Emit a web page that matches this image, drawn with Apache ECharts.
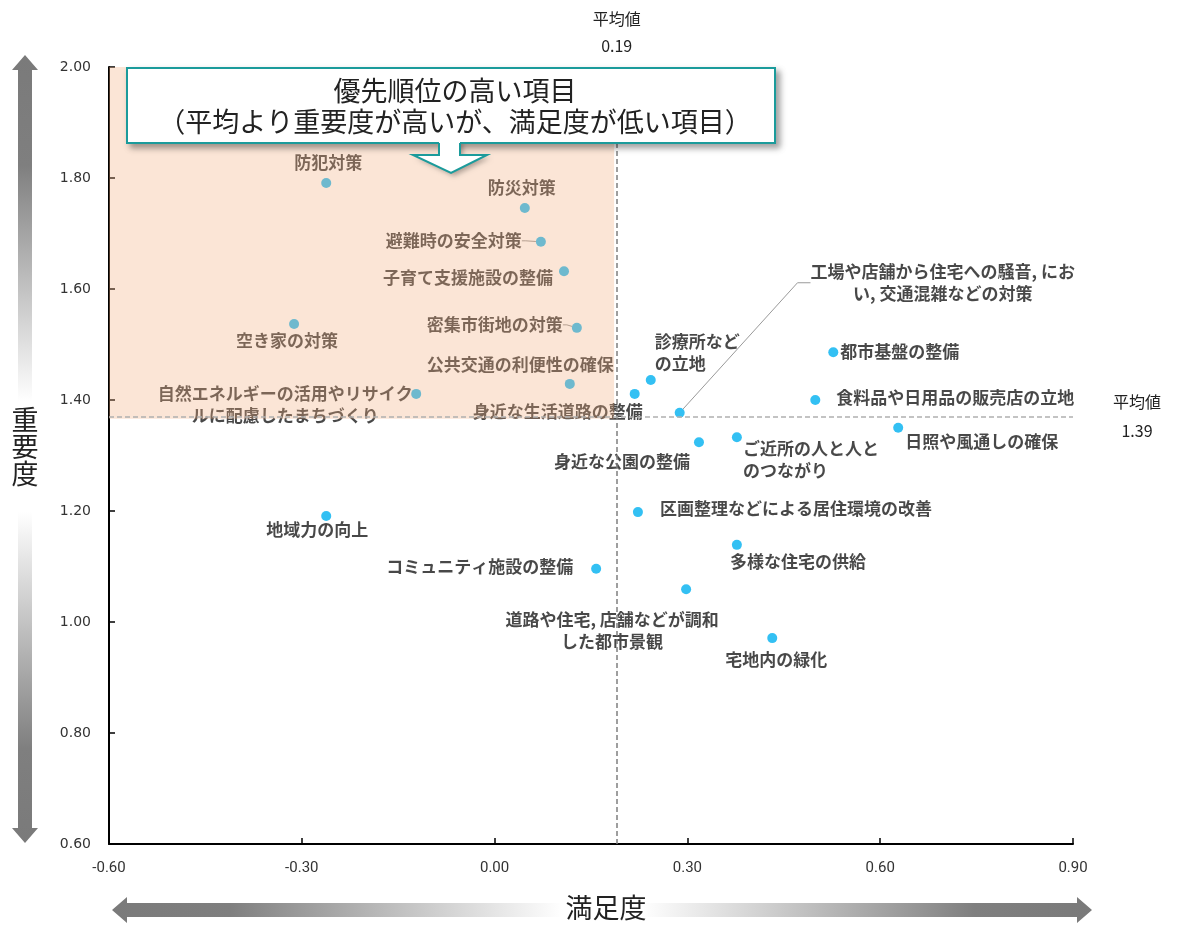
<!DOCTYPE html>
<html>
<head>
<meta charset="utf-8">
<script src="https://cdn.jsdelivr.net/npm/echarts@6/dist/echarts.min.js"></script>
<style>
html,body{margin:0;padding:0;background:#fff;}
#chart{width:1177px;height:925px;}
</style>
</head>
<body>
<div id="chart"></div>
<script>
// ---- data ----
const itemNames = [
  '防犯対策', '防災対策', '避難時の安全対策', '子育て支援施設の整備', '空き家の対策',
  '密集市街地の対策', '公共交通の利便性の確保', '自然エネルギーの活用やリサイク\nルに配慮したまちづくり',
  '身近な生活道路の整備', '診療所など\nの立地', '工場や店舗から住宅への騒音, にお\nい, 交通混雑などの対策',
  '都市基盤の整備', '食料品や日用品の販売店の立地', '日照や風通しの確保', '身近な公園の整備',
  'ご近所の人と人と\nのつながり', '地域力の向上', '区画整理などによる居住環境の改善', '多様な住宅の供給',
  'コミュニティ施設の整備', '道路や住宅, 店舗などが調和\nした都市景観', '宅地内の緑化'
];
const satisfaction = [
  -0.262, 0.047, 0.072, 0.108, -0.312,
  0.128, 0.117, -0.122,
  0.218, 0.243, 0.288,
  0.527, 0.499, 0.628, 0.318,
  0.377, -0.262, 0.223, 0.377,
  0.158, 0.298, 0.432
];
const importance = [
  1.791, 1.746, 1.685, 1.632, 1.537,
  1.530, 1.429, 1.411,
  1.411, 1.436, 1.377,
  1.486, 1.400, 1.350, 1.324,
  1.333, 1.191, 1.198, 1.139,
  1.096, 1.059, 0.971
];
const xTicks = { min: -0.6, max: 0.9, interval: 0.3 };
const yTicks = { min: 0.6, max: 2.0, interval: 0.2 };
const avgSatisfactionLine = 0.186;
const avgSatisfactionText = '0.19';
const avgImportanceLine = 1.366;
const avgImportanceText = '1.39';

// ---- label layout (style only: align, dx, dy, leader) ----
const labelPlacement = [
  ['center', 2, -20], ['center', -3, -20], ['right', -19, -1, 4], ['right', -11, 6], ['center', -7, 17],
  ['right', -14, -3, 4], ['right', 44, -19], ['center', -131, 11],
  ['right', 8, 18], ['left', 4, -27], ['center', 263, -130, 13],
  ['left', 7, -1], ['left', 21, -2], ['left', 7, 14], ['right', -9, 19],
  ['left', 6, 22], ['center', -9, 14], ['left', 22, -4], ['left', -7, 17],
  ['right', -23, -2], ['center', -74, 41], ['center', 4, 21]
];

const seriesData = itemNames.map((n, i) => {
  const p = labelPlacement[i];
  const item = { name: n, value: [satisfaction[i], importance[i]] };
  if (p[3]) {
    item.labelLine = { show: true, length2: p[3], smooth: false, lineStyle: { color: '#9a9a9a', width: 1 } };
  }
  return item;
});

const chart = echarts.init(document.getElementById('chart'));
const cjk = '"Noto Sans CJK JP", "Noto Sans", sans-serif';
const teal = '#1b9b9b';

function hGrad() {
  return new echarts.graphic.LinearGradient(0, 0, 1, 0, [
    { offset: 0, color: '#7a7a7a' }, { offset: 0.12, color: '#7f7f7f' },
    { offset: 0.46, color: '#ffffff' }, { offset: 0.54, color: '#ffffff' },
    { offset: 0.88, color: '#7f7f7f' }, { offset: 1, color: '#7a7a7a' }
  ]);
}
function vGrad() {
  return new echarts.graphic.LinearGradient(0, 0, 0, 1, [
    { offset: 0, color: '#7a7a7a' }, { offset: 0.14, color: '#7f7f7f' },
    { offset: 0.44, color: '#ffffff' }, { offset: 0.58, color: '#ffffff' },
    { offset: 0.88, color: '#7f7f7f' }, { offset: 1, color: '#7a7a7a' }
  ]);
}

const option = {
  animation: false,
  backgroundColor: '#ffffff',
  grid: { left: 109, right: 104, top: 67, bottom: 81, containLabel: false },
  xAxis: {
    type: 'value', min: xTicks.min, max: xTicks.max, interval: xTicks.interval,
    axisLine: { show: true, onZero: false, lineStyle: { color: '#000', width: 2 } },
    axisTick: { show: true, inside: true, length: 6, lineStyle: { color: '#000', width: 1.5 } },
    splitLine: { show: false },
    axisLabel: {
      margin: 17, color: '#333', fontSize: 15, fontFamily: 'Roboto, "Liberation Sans", sans-serif',
      formatter: v => v.toFixed(2)
    }
  },
  yAxis: {
    type: 'value', min: yTicks.min, max: yTicks.max, interval: yTicks.interval,
    axisLine: { show: true, onZero: false, lineStyle: { color: '#000', width: 2 } },
    axisTick: { show: true, inside: true, length: 6, lineStyle: { color: '#000', width: 1.5 } },
    splitLine: { show: false },
    axisLabel: {
      margin: 18, color: '#333', fontSize: 14, fontFamily: '"DejaVu Sans", sans-serif',
      formatter: v => v.toFixed(2)
    }
  },
  series: [
    {
      type: 'scatter', z: 2,
      symbol: 'circle', symbolSize: 10,
      itemStyle: { color: '#00b0f0' },
      label: {
        show: true, position: 'inside', formatter: '{b}',
        color: '#1a1a1a', fontSize: 17, fontWeight: 'bold', fontFamily: cjk, lineHeight: 22
      },
      labelLine: { show: false },
      labelLayout: function (params) {
        const p = labelPlacement[params.dataIndex];
        return { dx: p[1], dy: p[2], align: p[0], verticalAlign: 'middle' };
      },
      data: seriesData
    },
    {
      type: 'scatter', z: 5, data: [], silent: true,
      markArea: {
        silent: true, z: 10,
        itemStyle: { color: 'rgba(242,171,122,0.31)' },
        data: [[{ coord: [xTicks.min, avgImportanceLine] }, { coord: [avgSatisfactionLine, yTicks.max] }]]
      },
      markLine: {
        silent: true, z: 11, symbol: ['none', 'none'],
        data: [
          {
            xAxis: avgSatisfactionLine,
            lineStyle: { color: '#7f7f7f', type: [5, 3], width: 1.5 },
            label: {
              show: true, position: 'end', distance: 8, formatter: '平均値\n' + avgSatisfactionText,
              color: '#222', fontSize: 16, fontFamily: cjk, lineHeight: 27, align: 'center'
            }
          },
          {
            yAxis: avgImportanceLine,
            lineStyle: { color: '#b0b0b0', type: [5, 3], width: 1.5 },
            label: {
              show: true, position: 'end', distance: 64, formatter: '平均値\n' + avgImportanceText,
              color: '#222', fontSize: 16, fontFamily: cjk, lineHeight: 29, align: 'center'
            }
          }
        ]
      }
    }
  ],
  graphic: [
    // callout box
    {
      type: 'rect', z: 20, shape: { x: 127, y: 68, width: 648, height: 75 },
      style: { fill: '#ffffff', stroke: teal, lineWidth: 2, shadowBlur: 6, shadowOffsetX: 4, shadowOffsetY: 4, shadowColor: 'rgba(0,0,0,0.35)' }
    },
    {
      type: 'polygon', z: 21,
      shape: { points: [[439, 140], [460, 140], [460, 155], [487, 155], [451, 173], [413, 155], [439, 155]] },
      style: { fill: '#ffffff', shadowBlur: 5, shadowOffsetX: 3, shadowOffsetY: 3, shadowColor: 'rgba(0,0,0,0.3)' }
    },
    {
      type: 'rect', z: 22, shape: { x: 128, y: 69, width: 646, height: 73 },
      style: { fill: '#ffffff' }
    },
    {
      type: 'polygon', z: 22,
      shape: { points: [[440, 140], [459, 140], [459, 156], [486, 156], [451, 172], [414, 156], [440, 156]] },
      style: { fill: '#ffffff' }
    },
    {
      type: 'polyline', z: 23,
      shape: { points: [[439, 143], [439, 155], [413, 155], [451, 173], [487, 155], [460, 155], [460, 143]] },
      style: { stroke: teal, lineWidth: 2, fill: null }
    },
    {
      type: 'polyline', z: 23,
      shape: { points: [[439, 143], [127, 143], [127, 68], [775, 68], [775, 143], [460, 143]] },
      style: { stroke: teal, lineWidth: 2, fill: null }
    },
    {
      type: 'text', z: 24, x: 455, y: 106,
      style: {
        text: '優先順位の高い項目\n（平均より重要度が高いが、満足度が低い項目）',
        fill: '#222', font: '27px ' + cjk, align: 'center', verticalAlign: 'middle', lineHeight: 31
      }
    },
    // vertical axis arrow (重要度)
    {
      type: 'polygon', z: 1,
      shape: { points: [[25, 55], [38, 70], [32, 70], [32, 828], [38, 828], [25, 843], [12, 828], [18, 828], [18, 70], [12, 70]] },
      style: { fill: vGrad() }
    },
    {
      type: 'text', z: 2, x: 25, y: 447,
      style: { text: '重\n要\n度', fill: '#222', font: '27px ' + cjk, align: 'center', verticalAlign: 'middle', lineHeight: 27 }
    },
    // horizontal axis arrow (満足度)
    {
      type: 'polygon', z: 1,
      shape: { points: [[112, 910], [127, 897], [127, 903], [1077, 903], [1077, 897], [1092, 910], [1077, 923], [1077, 917], [127, 917], [127, 923]] },
      style: { fill: hGrad() }
    },
    {
      type: 'text', z: 2, x: 606, y: 908,
      style: { text: '満足度', fill: '#222', font: '27px ' + cjk, align: 'center', verticalAlign: 'middle' }
    }
  ]
};
chart.setOption(option);
</script>
</body>
</html>
